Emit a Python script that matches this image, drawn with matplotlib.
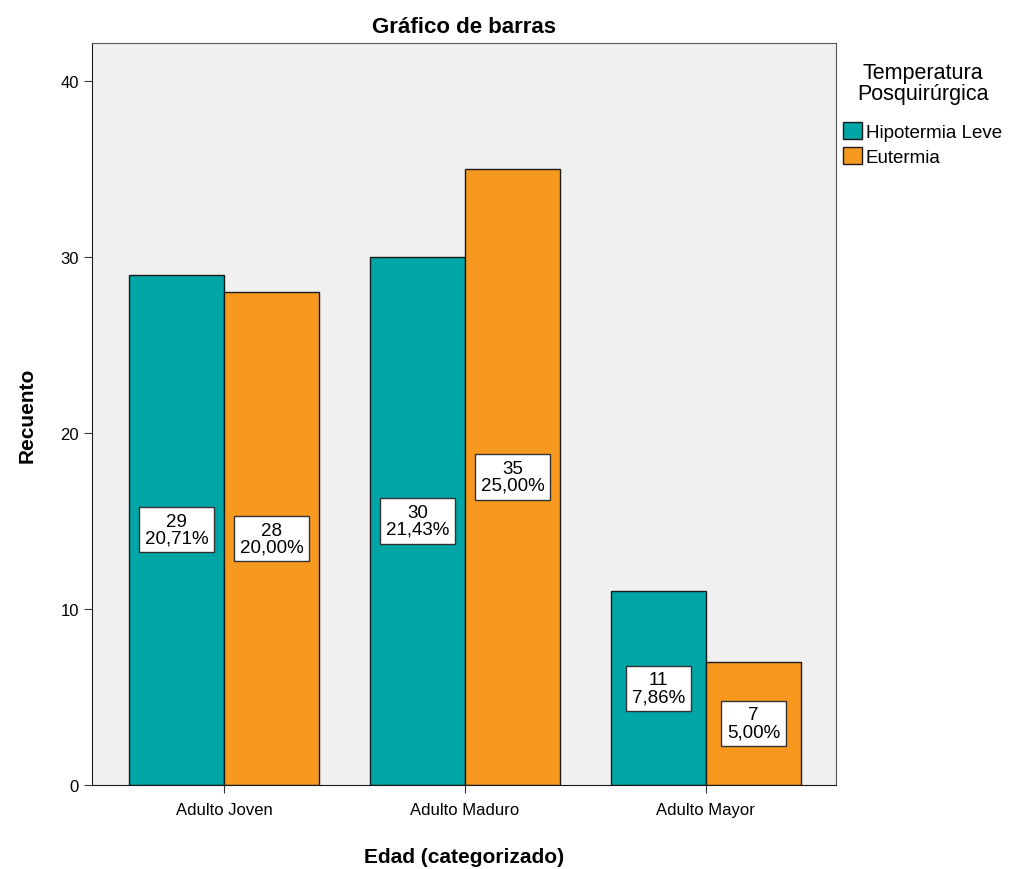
import matplotlib.pyplot as plt
import numpy as np

plt.rcParams['font.family'] = ['Liberation Sans', 'DejaVu Sans']

categories = ['Adulto Joven', 'Adulto Maduro', 'Adulto Mayor']
hipotermia = [29, 30, 11]
eutermia = [28, 35, 7]
hipotermia_pct = ['20,71%', '21,43%', '7,86%']
eutermia_pct = ['20,00%', '25,00%', '5,00%']

teal = '#00A5A5'
orange = '#F7991F'

fig = plt.figure(figsize=(10.16, 8.7), dpi=100)
ax = fig.add_axes([0.0906, 0.0966, 0.7322, 0.8528])
ax.set_facecolor('#F0F0F0')

x = np.arange(len(categories))
w = 0.394
b1 = ax.bar(x - w / 2, hipotermia, w, color=teal, edgecolor='#1a1a1a', linewidth=1, label='Hipotermia Leve')
b2 = ax.bar(x + w / 2, eutermia, w, color=orange, edgecolor='#1a1a1a', linewidth=1, label='Eutermia')

# labels inside the bars, centered at half height
for bars, vals, pcts in [(b1, hipotermia, hipotermia_pct), (b2, eutermia, eutermia_pct)]:
    for bar, v, p in zip(bars, vals, pcts):
        ax.text(bar.get_x() + bar.get_width() / 2, v / 2, f'{v}\n{p}',
                ha='center', va='center', fontsize=13.5, linespacing=1.0,
                bbox=dict(boxstyle='square,pad=0.3', facecolor='white', edgecolor='#333333', linewidth=1))

ax.set_xlim(-0.548, 2.54)
ax.set_ylim(0, 42.16)
ax.set_yticks([0, 10, 20, 30, 40])
ax.set_xticks(x)
ax.set_xticklabels(categories)
ax.tick_params(axis='both', labelsize=12, color='#333333', length=6)
ax.tick_params(axis='x', pad=6)

for s in ['left', 'bottom']:
    ax.spines[s].set_color('#1a1a1a')
for s in ['top', 'right']:
    ax.spines[s].set_color('#555555')

ax.set_xlabel('Edad (categorizado)', fontsize=15, fontweight='bold', labelpad=22)
ax.set_ylabel('Recuento', fontsize=15, fontweight='bold', labelpad=17)
ax.set_title('Gráfico de barras', fontsize=16, fontweight='bold', pad=8)

leg = ax.legend(title='Temperatura\nPosquirúrgica', loc='upper left', bbox_to_anchor=(0.995, 0.99),
                frameon=False, fontsize=13.5, title_fontsize=15.5, handlelength=1.0, handleheight=1.0,
                handletextpad=0.2, borderaxespad=0.2, labelspacing=0.35)
leg.get_title().set_multialignment('center')
leg.get_title().set_linespacing(1.0)
leg._legend_box.sep = 13  # extra room between title and entries

fig.savefig('out.png', dpi=100)
